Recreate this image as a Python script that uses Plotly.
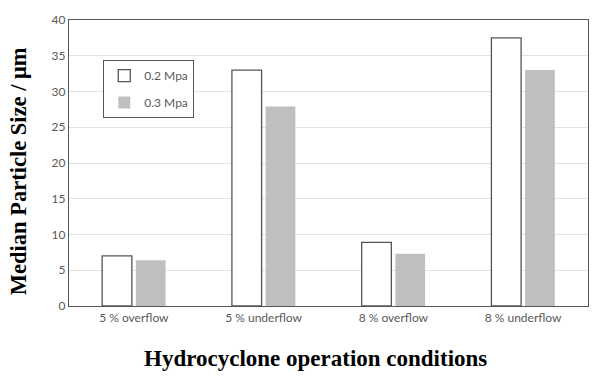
import plotly.graph_objects as go

categories = ["5 % overflow", "5 % underflow", "8 % overflow", "8 % underflow"]
p02 = [7.0, 33.0, 8.9, 37.5]
p03 = [6.4, 27.9, 7.3, 33.0]
yticks = [0, 5, 10, 15, 20, 25, 30, 35, 40]

fig = go.Figure()
fig.add_trace(go.Bar(x=categories, y=p02, name="0.2 Mpa", legendgroup="a",
                     marker=dict(color="white", line=dict(color="#555555", width=1.3))))
fig.add_trace(go.Bar(x=categories, y=p03, name="0.3 Mpa", legendgroup="b",
                     marker=dict(color="#bfbfbf", line=dict(color="#bfbfbf", width=0))))

serif = "Liberation Serif, Times New Roman, serif"
fig.update_layout(
    width=600, height=377,
    margin=dict(l=69, r=12, t=20, b=71),
    paper_bgcolor="white", plot_bgcolor="white",
    barmode="group", bargap=0.48, bargroupgap=0.12,
    font=dict(family="Lato, Liberation Sans, sans-serif", color="#595959", size=11),
    showlegend=True,
    legend=dict(x=0.066, y=0.86, xanchor="left", yanchor="top",
                bgcolor="white", bordercolor="#555555", borderwidth=1,
                font=dict(size=12, color="#595959"), itemwidth=30,
                tracegroupgap=8),
    xaxis=dict(showline=True, mirror=True, linecolor="#555555", linewidth=1.3,
               ticks="", tickfont=dict(size=12, color="#595959"), automargin=False),
    yaxis=dict(range=[0, 40], tickvals=yticks, showline=True, mirror=True,
               linecolor="#555555", linewidth=1.3, showgrid=True, gridcolor="#e3e3e3",
               ticks="", tickfont=dict(size=12, color="#595959"), zeroline=False,
               automargin=False),
    annotations=[
        dict(text="<b>Hydrocyclone operation conditions</b>", x=0.474, y=-0.182,
             xref="paper", yref="paper", xanchor="center", yanchor="middle",
             showarrow=False, font=dict(family=serif, size=23, color="black")),
        dict(text="<b>Median Particle Size / μm</b>", x=-0.098, y=0.472, textangle=-90,
             xref="paper", yref="paper", xanchor="center", yanchor="middle",
             showarrow=False, font=dict(family=serif, size=22.5, color="black")),
    ],
)

fig.write_html("out.html", config={"displayModeBar": False},
               post_script="document.body.style.margin='0';")
